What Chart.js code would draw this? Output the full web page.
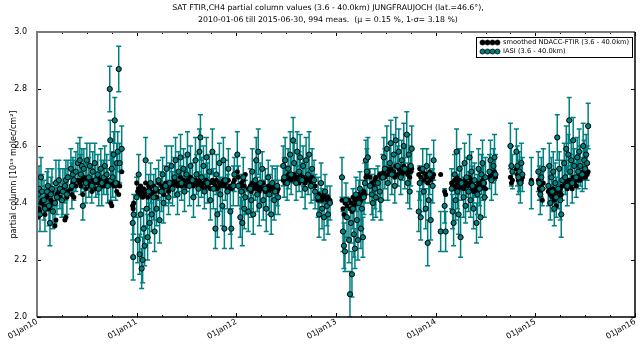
<!DOCTYPE html>
<html>
<head>
<meta charset="utf-8">
<script src="https://cdn.jsdelivr.net/npm/chart.js@4.4.1/dist/chart.umd.min.js"></script>
<style>
  html, body { margin: 0; padding: 0; background: #fff; }
</style>
</head>
<body>
<canvas id="myChart" width="640" height="345"></canvas>
<script>
const dates = [
  2010.01,2010.02,2010.03,2010.04,2010.05,2010.07,2010.08,2010.10,2010.11,2010.12,
  2010.13,2010.14,2010.15,2010.16,2010.18,2010.19,2010.20,2010.22,2010.23,2010.25,
  2010.26,2010.28,2010.29,2010.30,2010.31,2010.34,2010.35,2010.36,2010.37,2010.39,
  2010.41,2010.43,2010.44,2010.45,2010.46,2010.47,2010.49,2010.50,2010.52,2010.53,
  2010.55,2010.56,2010.58,2010.59,2010.61,2010.62,2010.64,2010.65,2010.67,2010.68,
  2010.70,2010.71,2010.73,2010.735,2010.74,2010.75,2010.76,2010.77,2010.78,2010.79,
  2010.80,2010.81,2010.82,2010.83,2010.85,2010.96,2010.965,2010.97,
  2011.00,2011.01,2011.02,2011.03,2011.04,2011.05,2011.06,2011.07,2011.08,2011.09,
  2011.10,2011.11,2011.12,2011.13,2011.14,2011.15,2011.17,2011.18,2011.19,2011.20,
  2011.22,2011.23,2011.25,2011.26,2011.27,2011.29,2011.30,2011.32,2011.33,2011.35,
  2011.36,2011.38,2011.39,2011.41,2011.42,2011.44,2011.45,2011.47,2011.48,2011.50,
  2011.51,2011.53,2011.54,2011.56,2011.57,2011.59,2011.60,2011.62,2011.63,2011.64,
  2011.65,2011.67,2011.68,2011.70,2011.71,2011.73,2011.74,2011.76,2011.77,2011.79,
  2011.80,2011.81,2011.83,2011.84,2011.86,2011.87,2011.88,2011.89,2011.91,2011.92,
  2011.94,2011.95,2011.97,2011.98,
  2012.01,2012.02,2012.04,2012.05,2012.06,2012.07,2012.08,2012.09,2012.12,2012.14,
  2012.15,2012.16,2012.17,2012.19,2012.20,2012.21,2012.22,2012.23,2012.24,2012.26,
  2012.27,2012.29,2012.30,2012.32,2012.33,2012.35,2012.36,2012.38,2012.39,2012.41,
  2012.42,2012.47,2012.48,2012.49,2012.51,2012.52,2012.54,2012.55,2012.57,2012.58,
  2012.60,2012.61,2012.63,2012.64,2012.66,2012.67,2012.69,2012.70,2012.72,2012.73,
  2012.75,2012.76,2012.78,2012.79,2012.82,2012.83,2012.85,2012.86,2012.88,2012.89,
  2012.91,2012.92,2012.94,
  2013.06,2013.07,2013.08,2013.09,2013.10,2013.11,2013.13,2013.14,2013.15,2013.16,
  2013.17,2013.18,2013.19,2013.20,2013.21,2013.22,2013.23,2013.24,2013.25,2013.26,
  2013.27,2013.28,2013.29,2013.30,2013.31,2013.32,2013.34,2013.36,2013.37,2013.39,
  2013.40,2013.42,2013.44,2013.45,2013.47,2013.48,2013.49,2013.51,2013.52,2013.54,
  2013.55,2013.56,2013.58,2013.59,2013.60,2013.62,2013.63,2013.65,2013.66,2013.68,
  2013.69,2013.71,2013.72,2013.73,2013.74,2013.75,2013.76,2013.83,2013.84,2013.85,
  2013.87,2013.88,2013.90,2013.91,2013.92,2013.93,2013.94,2013.95,2013.97,2013.98,
  2014.05,2014.09,2014.10,2014.16,2014.17,2014.18,2014.19,2014.20,2014.21,2014.22,
  2014.23,2014.24,2014.25,2014.26,2014.28,2014.29,2014.30,2014.31,2014.33,2014.34,
  2014.35,2014.36,2014.37,2014.38,2014.39,2014.41,2014.42,2014.43,2014.44,2014.45,
  2014.46,2014.47,2014.48,2014.49,2014.50,2014.54,2014.55,2014.56,2014.58,2014.59,
  2014.60,2014.75,2014.76,2014.77,2014.81,2014.82,2014.83,2014.84,2014.85,2014.86,
  2014.87,2014.96,
  2015.03,2015.04,2015.05,2015.06,2015.07,2015.08,2015.13,2015.14,2015.15,2015.16,
  2015.17,2015.18,2015.19,2015.20,2015.21,2015.22,2015.23,2015.24,2015.25,2015.26,
  2015.27,2015.29,2015.30,2015.31,2015.32,2015.33,2015.34,2015.35,2015.36,2015.37,
  2015.38,2015.39,2015.41,2015.42,2015.43,2015.44,2015.45,2015.47,2015.48,2015.49,
  2015.50,2015.51,2015.52,2015.53
];

// IASI partial columns [1e19 molec/cm2]
const iasi = [
  2.43,2.45,2.36,2.49,2.44,2.41,2.38,2.44,2.46,2.39,
  2.33,2.43,2.45,2.37,2.40,2.47,2.42,2.48,2.45,2.41,
  2.44,2.46,2.48,2.43,2.49,2.52,2.46,2.50,2.48,2.51,
  2.54,2.55,2.50,2.53,2.39,2.52,2.47,2.55,2.49,2.53,
  2.46,2.51,2.54,2.48,2.50,2.45,2.52,2.47,2.49,2.53,
  2.50,2.46,2.80,2.62,2.48,2.52,2.49,2.57,2.69,2.47,
  2.54,2.58,2.87,2.54,2.59,2.33,2.21,2.36,
  2.42,2.27,2.50,2.22,2.36,2.17,2.20,2.31,2.25,2.55,
  2.38,2.28,2.44,2.33,2.47,2.36,2.42,2.30,2.45,2.38,
  2.48,2.34,2.44,2.50,2.40,2.46,2.52,2.42,2.47,2.53,
  2.45,2.49,2.55,2.43,2.51,2.56,2.47,2.52,2.44,2.50,
  2.57,2.46,2.53,2.48,2.42,2.55,2.50,2.45,2.58,2.63,
  2.49,2.53,2.44,2.56,2.47,2.51,2.41,2.58,2.45,2.31,
  2.50,2.36,2.54,2.43,2.39,2.55,2.31,2.48,2.44,2.52,
  2.37,2.31,2.46,2.50,
  2.57,2.46,2.35,2.44,2.33,2.49,2.38,2.42,2.37,2.45,
  2.41,2.51,2.36,2.48,2.55,2.43,2.58,2.39,2.47,2.52,
  2.41,2.45,2.38,2.49,2.43,2.36,2.47,2.41,2.44,2.46,
  2.42,2.53,2.49,2.55,2.47,2.52,2.57,2.50,2.62,2.54,
  2.47,2.58,2.51,2.56,2.48,2.53,2.45,2.55,2.50,2.57,
  2.46,2.52,2.48,2.44,2.42,2.36,2.47,2.38,2.35,2.44,
  2.39,2.36,2.40,
  2.49,2.30,2.25,2.23,2.41,2.35,2.27,2.08,2.33,2.15,
  2.38,2.29,2.24,2.43,2.34,2.27,2.40,2.45,2.31,2.38,
  2.28,2.42,2.47,2.55,2.51,2.56,2.46,2.43,2.40,2.45,
  2.42,2.47,2.44,2.41,2.49,2.56,2.52,2.59,2.47,2.54,
  2.61,2.50,2.57,2.46,2.62,2.53,2.58,2.49,2.55,2.60,
  2.52,2.64,2.47,2.57,2.44,2.53,2.59,2.37,2.47,2.35,
  2.52,2.44,2.38,2.53,2.26,2.41,2.50,2.34,2.46,2.55,
  2.30,2.39,2.30,2.45,2.37,2.33,2.50,2.41,2.58,2.44,
  2.36,2.52,2.28,2.47,2.42,2.54,2.39,2.49,2.44,2.56,
  2.41,2.51,2.46,2.38,2.48,2.33,2.43,2.52,2.45,2.35,
  2.50,2.54,2.47,2.42,2.49,2.51,2.55,2.48,2.53,2.56,
  2.50,2.60,2.53,2.51,2.58,2.53,2.49,2.51,2.47,2.54,
  2.50,2.47,
  2.51,2.47,2.43,2.49,2.45,2.52,2.46,2.53,2.40,2.49,
  2.44,2.51,2.38,2.47,2.42,2.63,2.45,2.52,2.41,2.36,
  2.48,2.54,2.49,2.59,2.46,2.57,2.69,2.51,2.55,2.47,
  2.62,2.53,2.49,2.56,2.51,2.58,2.53,2.50,2.60,2.55,
  2.52,2.57,2.54,2.67
];

// IASI 1-sigma error
const iasiErr = [
  .07,.08,.06,.07,.06,.07,.08,.07,.06,.07,
  .08,.06,.07,.06,.07,.08,.06,.07,.07,.06,
  .08,.06,.07,.07,.06,.07,.08,.06,.07,.07,
  .07,.08,.07,.06,.05,.07,.07,.06,.07,.08,
  .06,.07,.07,.06,.07,.06,.07,.08,.06,.07,
  .07,.06,.08,.07,.07,.06,.07,.08,.08,.06,
  .07,.07,.08,.07,.08,.06,.08,.07,
  .07,.08,.07,.07,.08,.07,.08,.07,.07,.08,
  .07,.08,.06,.07,.07,.06,.08,.07,.07,.06,
  .07,.08,.07,.06,.07,.07,.08,.06,.07,.07,
  .06,.07,.08,.07,.07,.08,.06,.07,.07,.06,
  .08,.07,.07,.06,.07,.08,.07,.06,.08,.08,
  .07,.07,.06,.07,.07,.06,.07,.08,.07,.07,
  .07,.08,.07,.06,.07,.08,.07,.07,.06,.07,
  .08,.07,.07,.06,
  .08,.07,.07,.06,.08,.07,.07,.06,.07,.07,
  .06,.08,.07,.07,.08,.06,.08,.07,.07,.06,
  .07,.07,.08,.06,.07,.07,.06,.07,.08,.07,
  .06,.07,.07,.08,.06,.07,.08,.07,.08,.07,
  .06,.07,.07,.08,.06,.07,.07,.08,.07,.08,
  .06,.07,.07,.06,.07,.08,.07,.07,.08,.06,
  .07,.07,.06,
  .07,.07,.08,.07,.06,.07,.08,.08,.07,.08,
  .07,.08,.07,.06,.07,.07,.08,.06,.07,.07,
  .07,.06,.07,.07,.08,.07,.06,.07,.06,.07,
  .07,.06,.07,.07,.08,.07,.07,.08,.06,.07,
  .08,.07,.07,.06,.08,.07,.08,.06,.07,.08,
  .07,.08,.07,.07,.06,.07,.08,.07,.06,.08,
  .07,.07,.07,.06,.08,.07,.07,.07,.06,.07,
  .07,.06,.07,.07,.06,.08,.07,.07,.08,.06,
  .07,.07,.07,.06,.07,.07,.06,.07,.07,.08,
  .06,.07,.07,.07,.06,.07,.07,.07,.06,.07,
  .07,.08,.06,.07,.07,.06,.07,.07,.06,.08,
  .07,.08,.07,.06,.08,.07,.06,.07,.07,.07,
  .06,.09,
  .07,.06,.07,.07,.06,.07,.07,.08,.06,.07,
  .07,.07,.06,.07,.07,.08,.07,.06,.07,.08,
  .07,.07,.06,.08,.07,.07,.08,.06,.07,.07,
  .08,.06,.07,.07,.06,.08,.07,.06,.08,.07,
  .07,.07,.06,.08
];

// smoothed NDACC-FTIR partial columns
const ndacc = [
  2.35,2.38,2.37,2.40,2.41,2.39,2.36,2.42,2.43,2.38,
  2.39,2.41,2.44,2.40,2.32,2.34,2.43,2.44,2.42,2.41,
  2.45,2.34,2.35,2.42,2.44,2.45,2.43,2.47,2.42,2.46,
  2.48,2.47,2.46,2.48,2.43,2.49,2.45,2.48,2.47,2.46,
  2.44,2.48,2.47,2.45,2.49,2.47,2.48,2.46,2.47,2.46,
  2.48,2.47,2.47,2.48,2.40,2.39,2.47,2.46,2.47,2.46,
  2.44,2.47,2.43,2.46,2.51,2.39,2.38,2.40,
  2.47,2.44,2.45,2.43,2.46,2.44,2.42,2.45,2.43,2.47,
  2.44,2.42,2.46,2.45,2.44,2.43,2.46,2.44,2.45,2.42,
  2.47,2.44,2.46,2.45,2.43,2.47,2.46,2.44,2.45,2.47,
  2.46,2.48,2.47,2.46,2.47,2.49,2.46,2.48,2.47,2.46,
  2.48,2.47,2.49,2.47,2.46,2.48,2.47,2.46,2.48,2.47,
  2.46,2.47,2.45,2.48,2.46,2.47,2.45,2.48,2.47,2.46,
  2.48,2.45,2.47,2.46,2.47,2.48,2.46,2.47,2.45,2.48,
  2.46,2.45,2.47,2.48,
  2.51,2.49,2.46,2.47,2.44,2.48,2.46,2.50,2.45,2.46,
  2.44,2.47,2.45,2.46,2.47,2.45,2.46,2.44,2.46,2.45,
  2.47,2.44,2.45,2.46,2.44,2.45,2.46,2.44,2.45,2.44,
  2.45,2.48,2.49,2.47,2.48,2.50,2.49,2.48,2.49,2.50,
  2.48,2.49,2.47,2.50,2.48,2.49,2.47,2.48,2.49,2.48,
  2.47,2.49,2.48,2.46,2.41,2.43,2.42,2.41,2.43,2.42,
  2.41,2.42,2.41,
  2.41,2.38,2.36,2.40,2.35,2.39,2.41,2.38,2.40,2.37,
  2.42,2.39,2.41,2.40,2.42,2.41,2.43,2.42,2.41,2.43,
  2.42,2.44,2.43,2.49,2.50,2.51,2.49,2.47,2.46,2.48,
  2.49,2.47,2.50,2.49,2.50,2.51,2.49,2.52,2.50,2.51,
  2.52,2.50,2.51,2.49,2.53,2.50,2.52,2.51,2.50,2.53,
  2.51,2.52,2.50,2.51,2.49,2.51,2.52,2.50,2.52,2.49,
  2.51,2.48,2.50,2.49,2.47,2.50,2.51,2.48,2.49,2.50,
  2.50,2.44,2.43,2.47,2.46,2.45,2.48,2.46,2.49,2.47,
  2.45,2.48,2.46,2.47,2.45,2.48,2.46,2.47,2.46,2.49,
  2.47,2.48,2.45,2.44,2.46,2.45,2.44,2.47,2.46,2.45,
  2.47,2.48,2.46,2.47,2.45,2.49,2.50,2.51,2.50,2.51,
  2.49,2.49,2.47,2.48,2.52,2.50,2.48,2.49,2.50,2.48,
  2.49,2.48,
  2.48,2.45,2.44,2.46,2.41,2.47,2.44,2.45,2.43,2.44,
  2.42,2.45,2.41,2.43,2.39,2.44,2.42,2.44,2.45,2.43,
  2.46,2.46,2.47,2.48,2.45,2.47,2.48,2.46,2.47,2.45,
  2.49,2.47,2.46,2.48,2.49,2.50,2.48,2.49,2.51,2.50,
  2.49,2.51,2.50,2.51
];

const yearTicks = [2010, 2011, 2012, 2013, 2014, 2015, 2016];
const yTicks = [2.0, 2.2, 2.4, 2.6, 2.8, 3.0];
const titleLines = [
  'SAT FTIR,CH4 partial column values (3.6 - 40.0km) JUNGFRAUJOCH (lat.=46.6°),',
  '2010-01-06 till 2015-06-30, 994 meas.  (μ = 0.15 %, 1-σ= 3.18 %)'
];
const seriesNames = ['smoothed NDACC-FTIR (3.6 - 40.0km)', 'IASI (3.6 - 40.0km)'];

const teal = '#008080';
const FONT = '"DejaVu Sans", sans-serif';

Chart.defaults.font.family = FONT;
Chart.defaults.font.size = 8;
Chart.defaults.color = '#000';

// teal error bars with caps, under all markers
const errorBars = {
  id: 'errorBars',
  beforeDatasetsDraw(chart) {
    const { ctx, chartArea, scales: { x, y } } = chart;
    ctx.save();
    ctx.beginPath();
    ctx.rect(chartArea.left, chartArea.top, chartArea.right - chartArea.left, chartArea.bottom - chartArea.top);
    ctx.clip();
    ctx.strokeStyle = teal;
    ctx.lineWidth = 1.5;
    ctx.beginPath();
    dates.forEach((d, i) => {
      const px = x.getPixelForValue(d);
      const lo = y.getPixelForValue(iasi[i] - iasiErr[i]);
      const hi = y.getPixelForValue(iasi[i] + iasiErr[i]);
      ctx.moveTo(px, lo); ctx.lineTo(px, hi);
      ctx.moveTo(px - 2.5, lo); ctx.lineTo(px + 2.5, lo);
      ctx.moveTo(px - 2.5, hi); ctx.lineTo(px + 2.5, hi);
    });
    ctx.stroke();
    ctx.restore();
  }
};

// frame, inward ticks, title and legend
const decorations = {
  id: 'decorations',
  afterDraw(chart) {
    const { ctx, chartArea: a, scales: { x, y } } = chart;
    ctx.save();

    // ticks
    ctx.strokeStyle = '#000';
    ctx.lineWidth = 1;
    ctx.beginPath();
    yearTicks.forEach(v => {
      const px = Math.round(x.getPixelForValue(v)) + 0.5;
      ctx.moveTo(px, a.bottom); ctx.lineTo(px, a.bottom - 4);
      ctx.moveTo(px, a.top); ctx.lineTo(px, a.top + 4);
      if (v < 2016) {
        [0.25, 0.5, 0.75].forEach(q => {
          const mx = Math.round(x.getPixelForValue(v + q)) + 0.5;
          ctx.moveTo(mx, a.bottom); ctx.lineTo(mx, a.bottom - 2);
          ctx.moveTo(mx, a.top); ctx.lineTo(mx, a.top + 2);
        });
      }
    });
    yTicks.forEach(v => {
      const py = Math.round(y.getPixelForValue(v)) + 0.5;
      ctx.moveTo(a.left, py); ctx.lineTo(a.left + 4, py);
      ctx.moveTo(a.right, py); ctx.lineTo(a.right - 4, py);
    });
    ctx.stroke();

    // frame: grey left/top, black bottom/right
    ctx.lineWidth = 2;
    ctx.strokeStyle = '#7a7a7a';
    ctx.beginPath();
    ctx.moveTo(a.left, a.bottom); ctx.lineTo(a.left, a.top); ctx.lineTo(a.right, a.top);
    ctx.stroke();
    ctx.lineWidth = 1.5;
    ctx.strokeStyle = '#000';
    ctx.beginPath();
    ctx.moveTo(a.left, a.bottom); ctx.lineTo(a.right, a.bottom); ctx.lineTo(a.right, a.top);
    ctx.stroke();

    // title
    const cx = (a.left + a.right) / 2;
    ctx.fillStyle = '#000';
    ctx.font = '7.8px ' + FONT;
    ctx.textAlign = 'center';
    ctx.textBaseline = 'middle';
    ctx.fillText(titleLines[0], cx - 8, 8);
    ctx.fillText(titleLines[1], cx - 8, 19.5);

    // legend box
    const lx = a.left + 439, ly = a.top + 5, lw = 156, lh = 20;
    ctx.fillStyle = '#fff';
    ctx.fillRect(lx, ly, lw, lh);
    ctx.lineWidth = 1;
    ctx.strokeStyle = '#000';
    ctx.strokeRect(lx + 0.5, ly + 0.5, lw, lh);
    seriesNames.forEach((name, k) => {
      const ry = ly + 5.5 + k * 9;
      for (let j = 0; j < 4; j++) {
        ctx.beginPath();
        ctx.arc(lx + 6.5 + j * 5, ry, 2.5, 0, Math.PI * 2);
        ctx.fillStyle = k === 0 ? '#000' : teal;
        ctx.fill();
        ctx.lineWidth = 0.8;
        ctx.strokeStyle = '#000';
        ctx.stroke();
      }
      ctx.fillStyle = '#000';
      ctx.font = '6.7px ' + FONT;
      ctx.textAlign = 'left';
      ctx.fillText(name, lx + 27, ry);
    });
    ctx.restore();
  }
};

const ctx = document.getElementById('myChart');

new Chart(ctx, {
  type: 'scatter',
  data: {
    datasets: [
      {
        label: seriesNames[1],
        data: dates.map((d, i) => ({ x: d, y: iasi[i] })),
        backgroundColor: teal,
        borderColor: '#000',
        borderWidth: 1,
        pointRadius: 2.6,
        order: 0
      },
      {
        label: seriesNames[0],
        data: dates.map((d, i) => ({ x: d, y: ndacc[i] })),
        backgroundColor: '#000',
        borderColor: '#000',
        borderWidth: 0,
        pointRadius: 2.5,
        order: 1
      }
    ]
  },
  options: {
    responsive: false,
    animation: false,
    devicePixelRatio: 1,
    layout: { padding: { top: 32, right: 5, left: 0, bottom: 0 } },
    scales: {
      x: {
        type: 'linear',
        min: 2010,
        max: 2016,
        afterBuildTicks: s => { s.ticks = yearTicks.map(v => ({ value: v })); },
        afterFit: s => { s.height = 28; },
        grid: { display: false },
        border: { display: false },
        ticks: {
          autoSkip: false,
          minRotation: 30,
          maxRotation: 30,
          padding: -8,
          callback: v => '01Jan' + String(v).slice(2)
        }
      },
      y: {
        min: 2.0,
        max: 3.0,
        afterBuildTicks: s => { s.ticks = yTicks.map(v => ({ value: v })); },
        afterFit: s => { s.width = 37; },
        grid: { display: false },
        border: { display: false },
        ticks: { padding: 2, callback: v => v.toFixed(1) },
        title: {
          display: true,
          text: 'partial column [10¹⁹ molec/cm²]',
          padding: { top: 9, bottom: 0 },
          font: { size: 8 }
        }
      }
    },
    plugins: {
      legend: { display: false },
      tooltip: { enabled: false }
    }
  },
  plugins: [errorBars, decorations]
});
</script>
</body>
</html>
